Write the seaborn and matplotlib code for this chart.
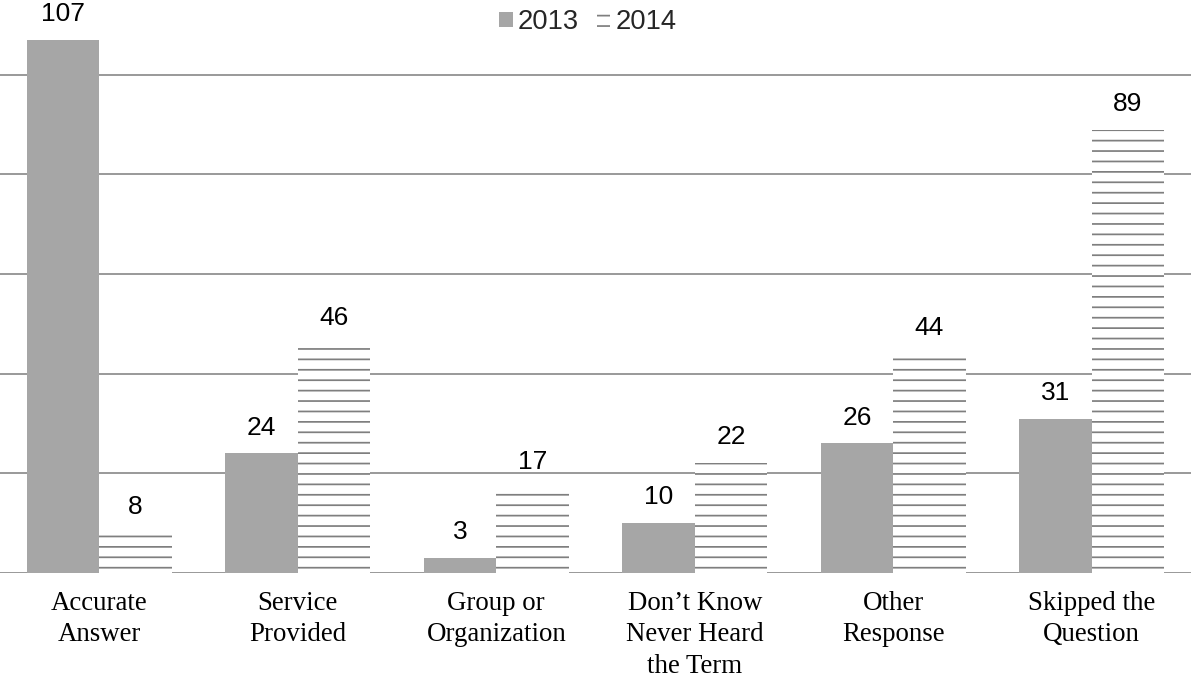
import pandas as pd
import numpy as np
import matplotlib
matplotlib.use('Agg')
import matplotlib.pyplot as plt
import matplotlib as mpl
import seaborn as sns
from matplotlib.patches import Patch

#data
categories = ['Accurate\nAnswer', 'Service\nProvided', 'Group or\nOrganization',
              'Don\u2019t Know\nNever Heard\nthe Term', 'Other\nResponse', 'Skipped the\nQuestion']
years = ['2013', '2014']
vals_2013 = [107, 24, 3, 10, 26, 31]
vals_2014 = [8, 46, 17, 22, 44, 89]

df = pd.DataFrame({
    'category': categories * 2,
    'year': ['2013'] * len(categories) + ['2014'] * len(categories),
    'count': vals_2013 + vals_2014,
})

sns.set_style('white')
mpl.rcParams['hatch.linewidth'] = 1.0
DPI = 125
fig = plt.figure(figsize=(1191 / DPI, 681 / DPI), dpi=DPI)
ax = fig.add_axes([0, 108 / 681, 1, 573 / 681])

sns.barplot(data=df, x='category', y='count', hue='year', order=categories,
            hue_order=years, palette=['#a6a6a6', 'white'], width=0.73,
            saturation=1, linewidth=0, legend=False, ax=ax)

#hatch the 2014 bars with grey horizontal lines
for bar in ax.containers[1]:
    bar.set_hatch('--')
    bar.set_edgecolor('#7f7f7f')
    bar.set_linewidth(0)

#value labels above bars
for cont in ax.containers:
    ax.bar_label(cont, padding=8, fontsize=15.2, family='Liberation Sans', color='black')

ax.set_ylim(0, 115)
ax.set_xlim(-0.5, 5.5)
ax.set_yticks([0, 20, 40, 60, 80, 100])
ax.set_yticklabels([])
ax.grid(axis='y', color='#8c8c8c', linewidth=1.0)
ax.set_axisbelow(True)
ax.tick_params(length=0, pad=10.5)
for lbl in ax.get_xticklabels():
    lbl.set_family('Liberation Serif')
    lbl.set_fontsize(15.5)
    lbl.set_linespacing(1.33)
    lbl.set_color('black')
ax.set_xlabel('')
ax.set_ylabel('')
sns.despine(left=True, bottom=True, top=True, right=True)

handles = [Patch(facecolor='#a6a6a6', linewidth=0),
           Patch(facecolor='white', hatch='--', edgecolor='#7f7f7f', linewidth=0)]
fig.legend(handles, years, loc='center', bbox_to_anchor=(588 / 1191, 1 - 22 / 681),
           ncol=2, frameon=False, prop={'family': 'Liberation Sans', 'size': 15.8},
           handlelength=0.48, handleheight=0.48, handletextpad=0.2, columnspacing=0.65)

fig.savefig('out.png', dpi=DPI)
